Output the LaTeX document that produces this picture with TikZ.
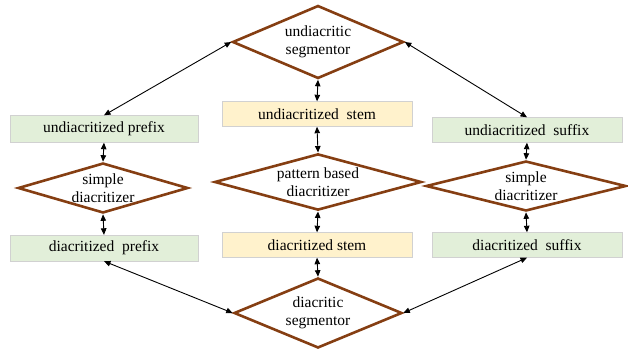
\documentclass[tikz,border=0pt]{standalone}
\usepackage{fontspec}
\setmainfont{Liberation Serif}
\usetikzlibrary{arrows.meta,shapes.geometric}
\definecolor{boxgreen}{RGB}{226,239,217}
\definecolor{boxyellow}{RGB}{255,242,204}
\definecolor{diabrown}{RGB}{133,62,18}
\begin{document}
\begin{tikzpicture}[x=1pt,y=-1pt,>={Triangle[length=6.5pt,width=5.5pt]},
 font=\fontsize{15.5}{18}\selectfont,
 box/.style={draw=black!18,line width=.4pt,fill=#1,minimum width=190pt,minimum height=25pt,inner sep=0pt},
 box/.default=boxgreen,
 dia/.style={diamond,draw=diabrown,line width=2.6pt,fill=white,align=center,inner sep=0pt,shape aspect=3},
 arr/.style={<->,draw=black,line width=.9pt}]
\useasboundingbox (0,0) rectangle (628,351);
% middle column
\node[dia,minimum width=171pt,minimum height=73pt] (segU) at (318,42) {undiacritic\\ segmentor};
\node[box=boxyellow] (stemU) at (317,114) {undiacritized\ \ stem};
\node[dia,minimum width=207pt,minimum height=52pt] (patt) at (318,182) {pattern based\\ diacritizer};
\node[box=boxyellow] (stemD) at (317,245) {diacritized stem};
\node[dia,minimum width=168pt,minimum height=70pt] (segD) at (318,313) {diacritic\\ segmentor};
% left column
\node[box,minimum width=188pt,minimum height=27pt] (preU) at (104,129) {undiacritized prefix};
\node[dia,minimum width=170pt,minimum height=50pt] (simpL) at (103,188) {simple\\ diacritizer};
\node[box,minimum width=188pt,minimum height=26pt] (preD) at (104,248) {diacritized\ \ prefix};
% right column
\node[box] (sufU) at (527,130) {undiacritized\ \ suffix};
\node[dia,minimum width=200pt,minimum height=50pt] (simpR) at (526,186) {simple\\ diacritizer};
\node[box] (sufD) at (527,245) {diacritized\ \ suffix};
% connectors
\foreach \a/\b in {segU/stemU,stemU/patt,patt/stemD,stemD/segD,preU/simpL,simpL/preD,sufU/simpR,simpR/sufD}
 \draw[arr] (\a.south)--(\b.north);
\draw[arr] (segU.west)--(preU.north);
\draw[arr] (segU.east)--(sufU.north);
\draw[arr] (preD.south)--(segD.west);
\draw[arr] (sufD.south)--(segD.east);
\end{tikzpicture}
\end{document}
